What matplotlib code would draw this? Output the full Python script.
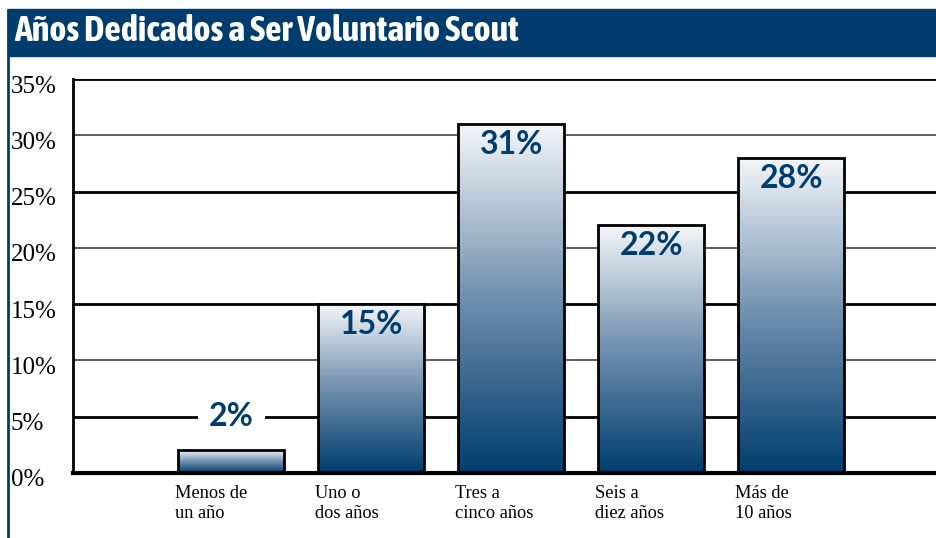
import numpy as np
import matplotlib
matplotlib.use('Agg')
import matplotlib.pyplot as plt
from matplotlib.patches import Rectangle
from matplotlib.transforms import ScaledTranslation
from matplotlib import font_manager as fm

cats = ['Menos de\nun año', 'Uno o\ndos años', 'Tres a\ncinco años', 'Seis a\ndiez años', 'Más de\n10 años']
vals = [2, 15, 31, 22, 28]
labs = ['2%', '15%', '31%', '22%', '28%']
yticks = [0, 5, 10, 15, 20, 25, 30, 35]

navy = '#003d6e'
W, H = 937, 538
fig = plt.figure(figsize=(W/100, H/100), dpi=100)

# pick a narrow face for the banner if there is one
narrow = [f.name for f in fm.fontManager.ttflist
          if ('Narrow' in f.name or 'Condensed' in f.name) and f.weight in ('bold', 700)]
cond = [f.name for f in fm.fontManager.ttflist if f.stretch == 'condensed' and f.weight in ('bold', 700)]

# title banner + left rule
fig.patches.append(Rectangle((8/W, 1-56/H), 1, 47/H, transform=fig.transFigure,
                             color=navy, zorder=0))
fig.lines.append(plt.Line2D([8.5/W, 8.5/W], [0, 1-10/H], transform=fig.transFigure,
                            color=navy, lw=2))
if narrow:
    tfam = [narrow[0], 'DejaVu Sans']
    tstr = 'normal'
else:
    tfam = [cond[0] if cond else 'DejaVu Sans', 'DejaVu Sans']
    tstr = 'condensed'
fig.text(14/W, 1-31/H, 'Años Dedicados a Ser Voluntario Scout', color='white',
         fontsize=26, fontweight='bold', fontstretch=tstr, va='center', ha='left',
         family=tfam)

ax = fig.add_axes([73/W, 65/H, 1-73/W, (473-79)/H])
x = np.arange(len(vals))
bw = 0.757

for t in yticks[1:]:
    if t % 10 == 5:
        ax.axhline(t, color='black', lw=2, zorder=1)
    else:
        ax.axhline(t, color='#444444', lw=1.2, zorder=1)

grad = np.linspace(0, 1, 256).reshape(-1, 1)
cmap = matplotlib.colors.LinearSegmentedColormap.from_list('g', [navy, '#6f8fae', '#f4f6f9'])
for xi, v, lb in zip(x, vals, labs):
    ax.imshow(grad, extent=[xi-bw/2, xi+bw/2, 0, v], origin='lower', cmap=cmap,
              aspect='auto', zorder=2)
    ax.add_patch(Rectangle((xi-bw/2, 0), bw, v, fill=False, ec='black', lw=2, zorder=3))
    if v < 5:
        ax.text(xi, 5, lb, ha='center', va='center', color=navy, fontsize=23,
                fontweight='bold', family='Lato', zorder=4,
                bbox=dict(fc='white', ec='none', pad=8))
    else:
        ax.text(xi, v-1.8, lb, ha='center', va='center', color=navy, fontsize=23,
                fontweight='bold', family='Lato', zorder=4)

ax.set_xlim(-1.13, 5.04)
ax.set_ylim(0, 35)

for s in ['top', 'right']:
    ax.spines[s].set_visible(False)
ax.spines['left'].set_linewidth(2)
ax.spines['bottom'].set_linewidth(3)
ax.spines['bottom'].set_zorder(5)

ax.set_yticks(yticks)
ax.set_yticklabels(['%d%%' % t for t in yticks], family='Liberation Serif', fontsize=18,
                   ha='left')
ax.tick_params(axis='y', length=0, pad=45)
off = ScaledTranslation(0, -5/100, fig.dpi_scale_trans)
for l in ax.get_yticklabels():
    l.set_transform(l.get_transform() + off)

ax.set_xticks(x - bw/2)
ax.set_xticklabels(cats, family='Liberation Serif', fontsize=13.2, ha='left',
                   linespacing=1.2)
ax.tick_params(axis='x', length=0, pad=9)
xoff = ScaledTranslation(-3/100, 0, fig.dpi_scale_trans)
for l in ax.get_xticklabels():
    l.set_transform(l.get_transform() + xoff)

fig.savefig('out.png', dpi=100)
